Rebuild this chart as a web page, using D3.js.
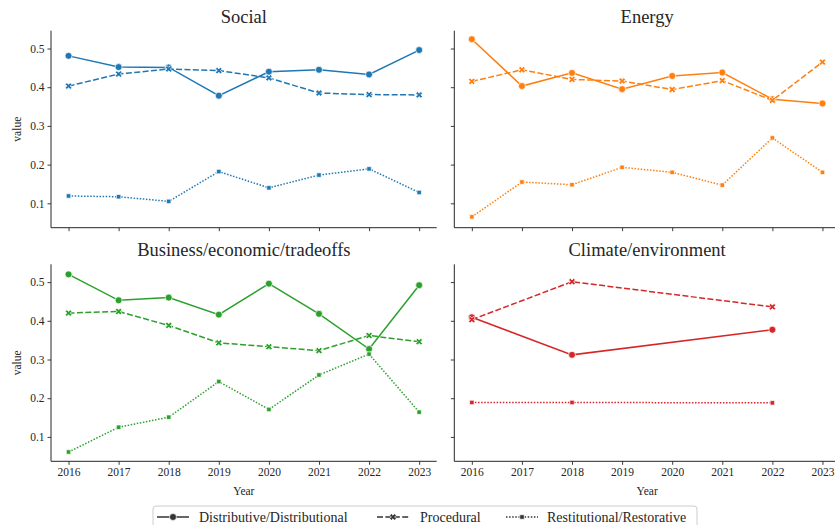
<!DOCTYPE html>
<html>
<head>
<meta charset="utf-8">
<script src="https://cdn.jsdelivr.net/npm/d3@7"></script>
<style>
  html, body { margin: 0; padding: 0; background: #fff; }
  svg { display: block; font-family: "Liberation Serif", "Times New Roman", serif; }
  svg text { font-family: "Liberation Serif", "Times New Roman", serif; }
</style>
</head>
<body>
<svg id="chart" width="835" height="525"></svg>
<script>
// Years on the shared x axis
const years = [2016, 2017, 2018, 2019, 2020, 2021, 2022, 2023];
const yTicks = [0.1, 0.2, 0.3, 0.4, 0.5];

// Panel themes and their colours
const themes = ["Social", "Energy", "Business/economic/tradeoffs", "Climate/environment"];
const themeColors = ["#1f77b4", "#ff7f0e", "#2ca02c", "#d62728"];

// Justice dimensions (line styles)
const dimensions = ["Distributive/Distributional", "Procedural", "Restitutional/Restorative"];

// Values per theme, one array per dimension (null = no observation that year)
const socialDistributive   = [0.481, 0.452, 0.451, 0.378, 0.440, 0.445, 0.433, 0.496];
const socialProcedural     = [0.403, 0.434, 0.447, 0.443, 0.424, 0.385, 0.381, 0.380];
const socialRestitutional  = [0.119, 0.117, 0.105, 0.182, 0.140, 0.173, 0.189, 0.128];

const energyDistributive   = [0.524, 0.403, 0.437, 0.395, 0.429, 0.438, 0.369, 0.358];
const energyProcedural     = [0.415, 0.445, 0.420, 0.416, 0.394, 0.417, 0.366, 0.465];
const energyRestitutional  = [0.065, 0.155, 0.148, 0.193, 0.180, 0.147, 0.269, 0.180];

const businessDistributive  = [0.520, 0.453, 0.460, 0.416, 0.496, 0.418, 0.327, 0.492];
const businessProcedural    = [0.420, 0.424, 0.388, 0.343, 0.333, 0.323, 0.362, 0.346];
const businessRestitutional = [0.061, 0.125, 0.151, 0.243, 0.171, 0.260, 0.314, 0.164];

const climateDistributive  = [0.409, null, 0.312, null, null, null, 0.377, null];
const climateProcedural    = [0.403, null, 0.501, null, null, null, 0.436, null];
const climateRestitutional = [0.189, null, 0.189, null, null, null, 0.188, null];

const seriesByTheme = [
  [socialDistributive, socialProcedural, socialRestitutional],
  [energyDistributive, energyProcedural, energyRestitutional],
  [businessDistributive, businessProcedural, businessRestitutional],
  [climateDistributive, climateProcedural, climateRestitutional]
];

const svg = d3.select("#chart");
const ink = "#262626";
const serif = '"Liberation Serif", "Times New Roman", serif';

// Facet grid geometry
const colLeft = [51, 454.3];
const rowTop = [30.7, 264.3];
const panelW = 385.7, panelH = 197;

const x = d3.scaleLinear().domain([2015.65, 2023.35]);
const yDomain = [0.037, 0.546];

// Line and marker styles for each dimension
const dashes = [null, "6,2.4", "1.5,1.6"];
const markerPaths = [
  d3.symbol(d3.symbolCircle, 38)(),
  d3.symbol(d3.symbolCross, 28)(),
  d3.symbol(d3.symbolSquare, 20)()
];
const markerRotate = [0, 45, 0];

themes.forEach((theme, i) => {
  const r = Math.floor(i / 2), c = i % 2;
  const left = colLeft[c], top = rowTop[r];
  const xs = x.copy().range([left, left + panelW]);
  const ys = d3.scaleLinear().domain(yDomain).range([top + panelH, top]);
  const g = svg.append("g");

  // Axes: left and bottom spines only
  const xAxis = d3.axisBottom(xs).tickValues(years).tickSizeOuter(0).tickSize(3.5).tickPadding(3)
    .tickFormat(r === 1 ? d3.format("d") : () => "");
  const yAxis = d3.axisLeft(ys).tickValues(yTicks).tickSizeOuter(0).tickSize(3.5).tickPadding(3)
    .tickFormat(c === 0 ? d3.format(".1f") : () => "");

  const gx = g.append("g").attr("transform", `translate(0,${top + panelH})`).call(xAxis);
  const gy = g.append("g").attr("transform", `translate(${left},0)`).call(yAxis);
  [gx, gy].forEach(a => {
    a.attr("font-family", serif).attr("font-size", 11.5);
    a.select(".domain").remove();
    a.selectAll("line").attr("stroke", ink).attr("stroke-width", 0.9);
    a.selectAll("text").attr("fill", ink);
  });
  g.append("line").attr("x1", left).attr("x2", left).attr("y1", top).attr("y2", top + panelH)
    .attr("stroke", ink).attr("stroke-width", 1);
  g.append("line").attr("x1", left).attr("x2", left + panelW).attr("y1", top + panelH).attr("y2", top + panelH)
    .attr("stroke", ink).attr("stroke-width", 1);

  // Panel title
  g.append("text").attr("x", left + panelW / 2).attr("y", top - 8)
    .attr("text-anchor", "middle").attr("fill", ink).style("font-size", "18.5px").text(theme);

  if (c === 0) {
    g.append("text")
      .attr("transform", `translate(${17},${top + panelH / 2}) rotate(-90)`)
      .attr("text-anchor", "middle").attr("dominant-baseline", "central")
      .attr("fill", ink).style("font-size", "11.5px").text("value");
  }
  if (r === 1) {
    g.append("text").attr("x", left + panelW / 2).attr("y", 495)
      .attr("text-anchor", "middle").attr("fill", ink).style("font-size", "11.5px").text("Year");
  }

  const color = themeColors[i];
  seriesByTheme[i].forEach((vals, k) => {
    const pts = years.map((yr, j) => ({ yr, v: vals[j] })).filter(d => d.v !== null);
    const line = d3.line().x(d => xs(d.yr)).y(d => ys(d.v));
    g.append("path").datum(pts).attr("d", line)
      .attr("fill", "none").attr("stroke", color).attr("stroke-width", 1.5)
      .attr("stroke-dasharray", dashes[k]);
    g.selectAll(null).data(pts).join("path")
      .attr("d", markerPaths[k])
      .attr("transform", d => `translate(${xs(d.yr)},${ys(d.v)}) rotate(${markerRotate[k]})`)
      .attr("fill", color).attr("stroke", "#fff").attr("stroke-width", 0.7);
  });
});

// Legend
const legend = svg.append("g");
legend.append("rect").attr("x", 153).attr("y", 506).attr("width", 544).attr("height", 30)
  .attr("rx", 3).attr("fill", "#fff").attr("stroke", "#cccccc").attr("stroke-width", 1);
const legendMarkerX = [173, 393, 522];
const legendTextX = [199, 420, 547];
dimensions.forEach((name, k) => {
  const mx = legendMarkerX[k];
  legend.append("line").attr("x1", mx - 16).attr("x2", mx + 16).attr("y1", 517).attr("y2", 517)
    .attr("stroke", "#333").attr("stroke-width", 1.5).attr("stroke-dasharray", dashes[k]);
  legend.append("path").attr("d", markerPaths[k])
    .attr("transform", `translate(${mx},517) rotate(${markerRotate[k]})`)
    .attr("fill", "#333").attr("stroke", "#fff").attr("stroke-width", 0.7);
  legend.append("text").attr("x", legendTextX[k]).attr("y", 517)
    .attr("dominant-baseline", "central").attr("fill", ink).style("font-size", "14px").text(name);
});
</script>
</body>
</html>
